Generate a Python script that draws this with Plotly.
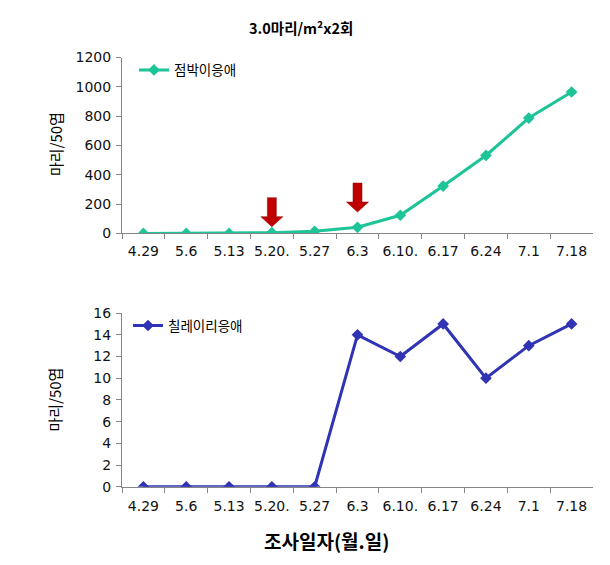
import plotly.graph_objects as go

dates = ["4.29", "5.6", "5.13", "5.20.", "5.27", "6.3", "6.10.", "6.17", "6.24", "7.1", "7.18"]
spider_mite = [0, 0, 0, 5, 15, 42, 124, 323, 532, 787, 965]
red_mite = [0, 0, 0, 0, 0, 14, 12, 15, 10, 13, 15]
top_ticks = [0, 200, 400, 600, 800, 1000, 1200]
bottom_ticks = [0, 2, 4, 6, 8, 10, 12, 14, 16]
# treatment (application) markers: date and the y value where the arrow tip sits
treat_dates = ["5.20.", "6.3"]
treat_tip = [46, 146]

W, H = 610, 565
FONT = "DejaVu Sans, Noto Sans CJK KR, sans-serif"
KFONT = "Noto Sans CJK KR, DejaVu Sans, sans-serif"
GREEN = "#1DC497"
BLUE = "#3034B4"
AXC = "#868686"

fig = go.Figure()
fig.add_trace(go.Scatter(
    x=dates, y=spider_mite, name="점박이응애", mode="lines+markers",
    line=dict(color=GREEN, width=3), marker=dict(symbol="diamond", size=9, color=GREEN),
    xaxis="x", yaxis="y", legend="legend"))
fig.add_trace(go.Scatter(
    x=dates, y=red_mite, name="칠레이리응애", mode="lines+markers",
    line=dict(color=BLUE, width=3), marker=dict(symbol="diamond", size=9, color=BLUE),
    xaxis="x2", yaxis="y2", legend="legend2"))

xd = [122 / W, 593 / W]
axis_common = dict(showline=True, linecolor=AXC, linewidth=1, ticks="outside", ticklen=5,
                   tickcolor=AXC, showgrid=False, zeroline=False, tickangle=0,
                   tickfont=dict(family=FONT, size=14, color="#111"))

fig.update_layout(
    width=W, height=H, margin=dict(l=0, r=0, t=0, b=0),
    paper_bgcolor="white", plot_bgcolor="white",
    xaxis=dict(domain=xd, anchor="y", type="category", tickson="boundaries",
               range=[-0.5, 10.5], ticklabelstandoff=5, **axis_common),
    yaxis=dict(domain=[1 - 232 / H, 1 - 51 / H], anchor="x", range=[0, 1200],
               tickvals=top_ticks, ticklabelstandoff=2, **axis_common),
    xaxis2=dict(domain=xd, anchor="y2", type="category", tickson="boundaries",
                range=[-0.5, 10.5], ticklabelstandoff=6, **axis_common),
    yaxis2=dict(domain=[1 - 492.7 / H, 1 - 314 / H], anchor="x2", range=[0, 16],
                tickvals=bottom_ticks, ticklabelstandoff=2, **axis_common),
    legend=dict(x=134 / W, y=1 - 64 / H, xanchor="left", yanchor="middle",
                bgcolor="rgba(0,0,0,0)", font=dict(family=KFONT, size=13.5, color="#000"),
                itemwidth=30, tracegroupgap=0),
    legend2=dict(x=128 / W, y=1 - 327 / H, xanchor="left", yanchor="middle",
                 bgcolor="rgba(0,0,0,0)", font=dict(family=KFONT, size=13.5, color="#000"),
                 itemwidth=30, tracegroupgap=0),
    showlegend=True,
)

annotations = [
    dict(text="<b>3.0마리/m²x2회</b>", x=301 / W, y=1 - 20 / H, xref="paper", yref="paper",
         xanchor="center", yanchor="middle", showarrow=False,
         font=dict(family=KFONT, size=14.5, color="#000")),
    dict(text="마리/50엽", x=55 / W, y=1 - 140 / H, xref="paper", yref="paper",
         xanchor="center", yanchor="middle", textangle=-90, showarrow=False,
         font=dict(family=KFONT, size=15, color="#000")),
    dict(text="마리/50엽", x=55 / W, y=1 - 403 / H, xref="paper", yref="paper",
         xanchor="center", yanchor="middle", textangle=-90, showarrow=False,
         font=dict(family=KFONT, size=15, color="#000")),
    dict(text="<b>조사일자(월.일)</b>", x=326 / W, y=1 - 548 / H, xref="paper", yref="paper",
         xanchor="center", yanchor="middle", showarrow=False,
         font=dict(family=KFONT, size=19, color="#000")),
]
fig.update_layout(annotations=annotations)

arrow_path = "M0,0 L-11,10 L-4.5,10 L-4.5,29 L4.5,29 L4.5,10 L11,10 Z"
shapes = []
for d, tip in zip(treat_dates, treat_tip):
    shapes.append(dict(type="path", xref="x", yref="y", xsizemode="pixel", ysizemode="pixel",
                       xanchor=dates.index(d), yanchor=tip, path=arrow_path,
                       fillcolor="#C00000", line=dict(color="#8A0000", width=0.5)))
fig.update_layout(shapes=shapes)

fig.write_html("out.html")
